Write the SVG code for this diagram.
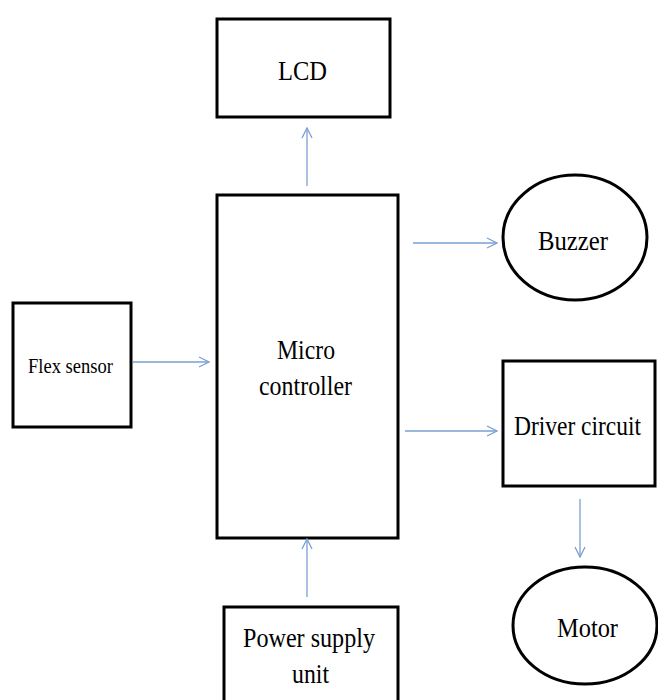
<svg xmlns="http://www.w3.org/2000/svg" width="658" height="700" viewBox="0 0 658 700">
<style>
.box{fill:#fff;stroke:#000;stroke-width:3}
.t{font-family:"Liberation Serif","Times New Roman",serif;fill:#000;text-anchor:start}
.c{fill:none;stroke:#7b9fd2;stroke-width:1.3}
</style>
<defs>
<marker id="ah" viewBox="0 0 12 12" refX="11" refY="6" markerWidth="12" markerHeight="12" markerUnits="userSpaceOnUse" orient="auto">
<path d="M1,1 L11,6 L1,11" fill="none" stroke="#7b9fd2" stroke-width="1.3"/>
</marker>
</defs>
<rect width="658" height="700" fill="#fff"/>
<g id="lcd">
<rect class="box" x="217" y="19" width="173" height="98"/>
<text class="t" x="278" y="80" font-size="28" textLength="49" lengthAdjust="spacingAndGlyphs">LCD</text>
</g>
<g id="micro">
<rect class="box" x="217" y="195" width="181" height="343"/>
<text class="t" x="277" y="359" font-size="27" textLength="58" lengthAdjust="spacingAndGlyphs">Micro</text>
<text class="t" x="259" y="395" font-size="27" textLength="93" lengthAdjust="spacingAndGlyphs">controller</text>
</g>
<g id="buzzer">
<ellipse class="box" cx="575" cy="237.5" rx="72" ry="62.5"/>
<text class="t" x="538" y="250" font-size="28" textLength="70" lengthAdjust="spacingAndGlyphs">Buzzer</text>
</g>
<g id="flex">
<rect class="box" x="13" y="303" width="118" height="124"/>
<text class="t" x="28" y="373" font-size="20" textLength="85" lengthAdjust="spacingAndGlyphs">Flex sensor</text>
</g>
<g id="driver">
<rect class="box" x="503" y="361" width="152" height="125"/>
<text class="t" x="514" y="435" font-size="27" textLength="127" lengthAdjust="spacingAndGlyphs">Driver circuit</text>
</g>
<g id="power">
<rect class="box" x="224" y="607" width="174" height="110"/>
<text class="t" x="243" y="647" font-size="28" textLength="132" lengthAdjust="spacingAndGlyphs">Power supply</text>
<text class="t" x="292" y="683" font-size="28" textLength="37" lengthAdjust="spacingAndGlyphs">unit</text>
</g>
<g id="motor">
<ellipse class="box" cx="585" cy="625.5" rx="72" ry="58.5"/>
<text class="t" x="557" y="637" font-size="28" textLength="61" lengthAdjust="spacingAndGlyphs">Motor</text>
</g>
<g id="connectors">
<line class="c" x1="307" y1="186" x2="307" y2="128" marker-end="url(#ah)"/>
<line class="c" x1="413" y1="243" x2="497" y2="243" marker-end="url(#ah)"/>
<line class="c" x1="133" y1="362" x2="209" y2="362" marker-end="url(#ah)"/>
<line class="c" x1="405" y1="431" x2="497" y2="431" marker-end="url(#ah)"/>
<line class="c" x1="580" y1="499" x2="580" y2="557" marker-end="url(#ah)"/>
<line class="c" x1="307" y1="597" x2="307" y2="539" marker-end="url(#ah)"/>
</g>
</svg>
